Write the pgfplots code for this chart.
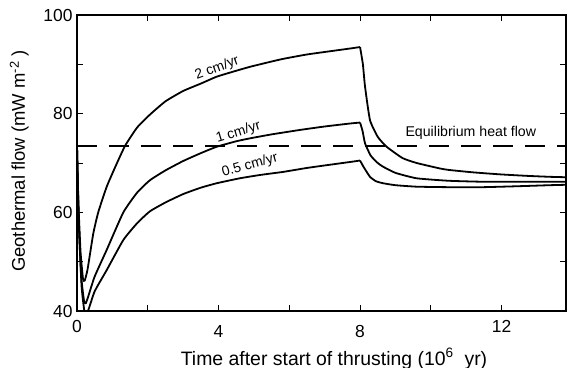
\documentclass[border=0pt]{standalone}
\usepackage{fontspec}
\setmainfont{Liberation Sans}
\usepackage{pgfplots}
\pgfplotsset{compat=1.18}
\begin{document}
\begin{tikzpicture}
\begin{axis}[
  scale only axis, width=489bp, height=296bp,
  xmin=0, xmax=13.82, ymin=40, ymax=100,
  xtick={0,2,...,12},
  xticklabels={0,,\raisebox{-5bp}[\height]{4},,\raisebox{-5bp}[\height]{8},,12},
  ytick={40,50,...,100}, yticklabels={40,,60,,80,,100},
  /pgf/number format/assume math mode=true,
  tick label style={font=\fontsize{17.5}{18}\selectfont},
  axis line style={line width=1.6bp},
  every tick/.style={black, line width=0.9bp},
  major tick length=6bp,
  xticklabel style={yshift=-6bp},
  yticklabel style={xshift=-1bp},
  clip=true,
]
\addplot[black, line width=1.8bp, dash pattern=on 20bp off 12bp] coordinates {(0,73.5) (13.82,73.5)};
\addplot[black, line width=1.8bp, smooth, tension=0.3] coordinates {
(0,73.5) (0.04,62) (0.1,52) (0.17,46.5) (0.22,46.2) (0.3,48.5) (0.46,55.7) (0.6,60) (0.84,65.2) (1.1,69.5) (1.36,73.5) (1.7,77.2) (2.06,79.8) (2.5,82.5) (3.0,84.6) (3.5,86.1) (3.95,87.5) (4.5,88.7) (4.89,89.5) (5.4,90.4) (5.82,91.1) (6.5,92.0) (7.2,92.7) (7.71,93.2) (8.0,93.5)};
\addplot[black, line width=1.8bp, smooth, tension=0.3] coordinates {
(8.0,93.5) (8.08,90) (8.14,85.5) (8.28,78.7) (8.5,75.3) (8.75,73.3) (9.2,71.0) (9.6,70.0) (10.25,68.9) (10.5,68.6) (11.2,68.1) (11.95,67.7) (12.7,67.4) (13.36,67.2) (13.9,67.1)};
\addplot[black, line width=1.8bp, smooth, tension=0.3] coordinates {
(0,73.5) (0.05,58) (0.12,47) (0.2,42) (0.25,41.6) (0.32,43) (0.5,47) (0.84,52.4) (1.31,60.0) (1.7,64) (2.06,66.5) (2.5,68.5) (3.0,70.4) (3.5,72.0) (3.95,73.3) (4.5,74.4) (4.89,75.0) (5.5,75.8) (6.3,76.7) (7.0,77.4) (7.71,78.0) (8.0,78.2)};
\addplot[black, line width=1.8bp, smooth, tension=0.3] coordinates {
(8.0,78.2) (8.07,76.5) (8.14,74.0) (8.3,71.5) (8.5,70.0) (8.65,69.25) (9.0,68.0) (9.6,66.9) (10.5,66.4) (11.47,66.2) (12.5,66.2) (13.36,66.2) (13.9,66.2)};
\addplot[black, line width=1.8bp, smooth, tension=0.3] coordinates {
(0,73.5) (0.05,58) (0.13,45) (0.22,39.5) (0.32,40.2) (0.5,44) (0.84,48.3) (1.31,54.4) (1.7,57.8) (2.06,60.2) (2.5,62) (3.0,63.7) (3.5,65.0) (3.95,65.9) (4.6,66.9) (5.2,67.6) (5.83,68.2) (6.5,69.0) (7.2,69.7) (7.71,70.2) (8.0,70.5)};
\addplot[black, line width=1.8bp, smooth, tension=0.3] coordinates {
(8.0,70.5) (8.1,69.2) (8.28,67.2) (8.45,66.3) (8.65,65.9) (9.0,65.5) (9.6,65.2) (10.5,65.1) (11.47,65.1) (12.5,65.3) (13.36,65.5) (13.9,65.6)};
\node[rotate=20, font=\fontsize{14}{14}\selectfont] at (axis cs:3.96,89.2) {2 cm/yr};
\node[rotate=17, font=\fontsize{14}{14}\selectfont] at (axis cs:4.56,76.2) {1 cm/yr};
\node[rotate=16, font=\fontsize{14}{14}\selectfont] at (axis cs:4.89,69.5) {0.5 cm/yr};
\node[anchor=base, inner sep=0pt, font=\fontsize{14.2}{14}\selectfont] at (axis cs:11.13,75.33) {Equilibrium heat flow};
\end{axis}
\node[anchor=base, inner sep=0pt, font=\fontsize{19.5}{20}\selectfont] at ([xshift=257bp,yshift=-54bp]current axis.south west) {Time after start of thrusting (10\textsuperscript{6}\ \ yr)};
\node[anchor=base, inner sep=0pt, rotate=90, font=\fontsize{18.5}{19}\selectfont] at ([xshift=-52bp,yshift=150bp]current axis.south west) {Geothermal flow (mW m\textsuperscript{-2} )};
\pgfresetboundingbox
\path[use as bounding box] (current axis.south west) ++(-77bp,-57bp) rectangle ++(567bp,368bp);
\end{tikzpicture}
\end{document}
